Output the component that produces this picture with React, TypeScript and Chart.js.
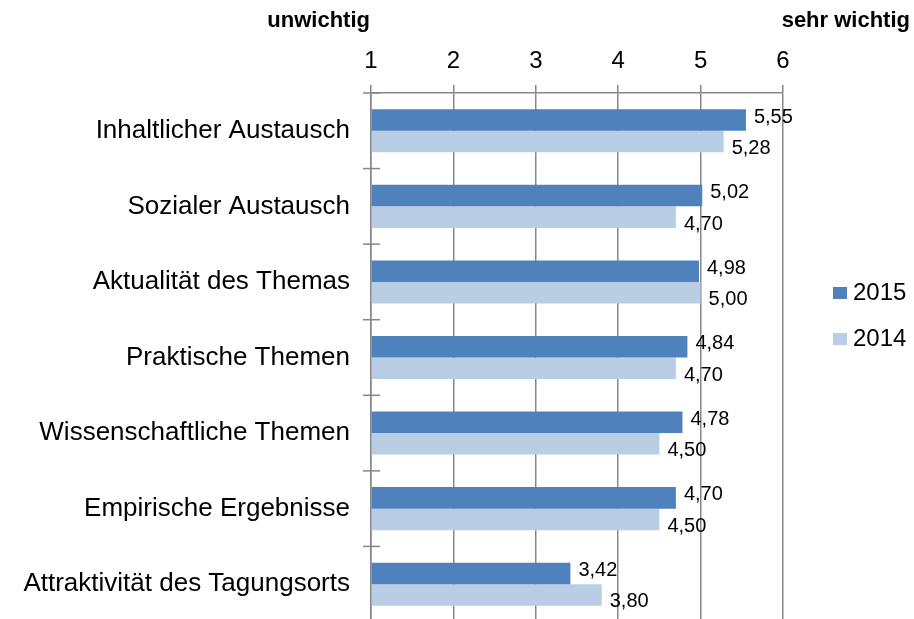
import React, { useEffect, useRef } from "react";
import { Chart, registerables } from "chart.js";

Chart.register(...registerables);

const categories = [
  "Inhaltlicher Austausch",
  "Sozialer Austausch",
  "Aktualität des Themas",
  "Praktische Themen",
  "Wissenschaftliche Themen",
  "Empirische Ergebnisse",
  "Attraktivität des Tagungsorts",
];
const values2015 = [5.55, 5.02, 4.98, 4.84, 4.78, 4.7, 3.42];
const values2014 = [5.28, 4.7, 5.0, 4.7, 4.5, 4.5, 3.8];
const seriesNames = ["2015", "2014"];
const axisMin = 1;
const axisMax = 6;
const leftTitle = "unwichtig";
const rightTitle = "sehr wichtig";

const COLORS = ["#4F81BD", "#B9CDE5"];
const GRID = "#878787";
const FONT = "'Liberation Sans', Arial, sans-serif";

const fmt = (v: number) => v.toFixed(2).replace(".", ",");

const overlayPlugin = {
  id: "overlay",
  afterDraw(chart: any) {
    const ctx = chart.ctx as CanvasRenderingContext2D;
    const area = chart.chartArea;
    ctx.save();
    // cross ticks on the category axis
    ctx.strokeStyle = GRID;
    ctx.lineWidth = 1.5;
    const n = categories.length;
    const step = (area.bottom - area.top) / n;
    for (let i = 0; i <= n; i++) {
      const y = area.top + i * step;
      ctx.beginPath();
      ctx.moveTo(area.left - 8, y);
      ctx.lineTo(area.left + 9, y);
      ctx.stroke();
    }
    // data labels
    ctx.fillStyle = "#000";
    ctx.font = `20px ${FONT}`;
    ctx.textAlign = "left";
    ctx.textBaseline = "middle";
    const dys = [-3, 7];
    chart.data.datasets.forEach((ds: any, di: number) => {
      const meta = chart.getDatasetMeta(di);
      meta.data.forEach((el: any, i: number) => {
        ctx.fillText(fmt(ds.data[i]), el.x + 8, el.y + dys[di]);
      });
    });
    // titles
    ctx.font = `bold 22px ${FONT}`;
    ctx.textAlign = "right";
    ctx.textBaseline = "alphabetic";
    ctx.fillText(leftTitle, area.left - 1, 27);
    ctx.fillText(rightTitle, 910, 27);
    // legend
    ctx.font = `24px ${FONT}`;
    ctx.textAlign = "left";
    ctx.textBaseline = "middle";
    const legendY = [293, 339];
    seriesNames.forEach((name, i) => {
      ctx.fillStyle = COLORS[i];
      ctx.fillRect(833, legendY[i] - 6, 14, 12);
      ctx.fillStyle = "#000";
      ctx.fillText(name, 853, legendY[i]);
    });
    ctx.restore();
  },
};

export default function App() {
  const ref = useRef<HTMLCanvasElement | null>(null);
  useEffect(() => {
    if (!ref.current) return;
    const chart = new Chart(ref.current, {
      type: "bar",
      data: {
        labels: categories,
        datasets: [
          {
            label: seriesNames[0],
            data: values2015,
            backgroundColor: COLORS[0],
            base: axisMin,
            categoryPercentage: 0.57,
            barPercentage: 1,
            borderWidth: 0,
          } as any,
          {
            label: seriesNames[1],
            data: values2014,
            backgroundColor: COLORS[1],
            base: axisMin,
            categoryPercentage: 0.57,
            barPercentage: 1,
            borderWidth: 0,
          } as any,
        ],
      },
      options: {
        indexAxis: "y",
        responsive: false,
        animation: false,
        devicePixelRatio: 1,
        layout: { padding: { left: 0, right: 131, top: 0, bottom: 0 } },
        plugins: {
          legend: { display: false },
          tooltip: { enabled: false },
        },
        scales: {
          x: {
            position: "top",
            min: axisMin,
            max: axisMax,
            ticks: {
              stepSize: 1,
              color: "#000",
              font: { family: FONT, size: 24 },
              padding: 9,
            },
            grid: { color: GRID, lineWidth: 1.5, tickLength: 8, drawTicks: true },
            border: { display: true, color: GRID, width: 1.5 },
            afterFit: (s: any) => {
              s.height = 93;
              s.paddingLeft = 0;
              s.paddingRight = 0;
            },
          },
          y: {
            ticks: {
              color: "#000",
              font: { family: FONT, size: 26 },
              padding: 21,
            },
            grid: { display: true, drawOnChartArea: false, drawTicks: false },
            border: { display: true, color: GRID, width: 1.5 },
            afterFit: (s: any) => {
              s.width = 371;
              s.paddingTop = 0;
              s.paddingBottom = 0;
            },
          },
        },
      } as any,
      plugins: [overlayPlugin],
    });
    return () => chart.destroy();
  }, []);
  return (
    <div style={{ position: "fixed", left: 0, top: 0, width: 914, height: 622, background: "#fff" }}>
      <canvas ref={ref} width={914} height={622} style={{ display: "block" }} />
    </div>
  );
}
